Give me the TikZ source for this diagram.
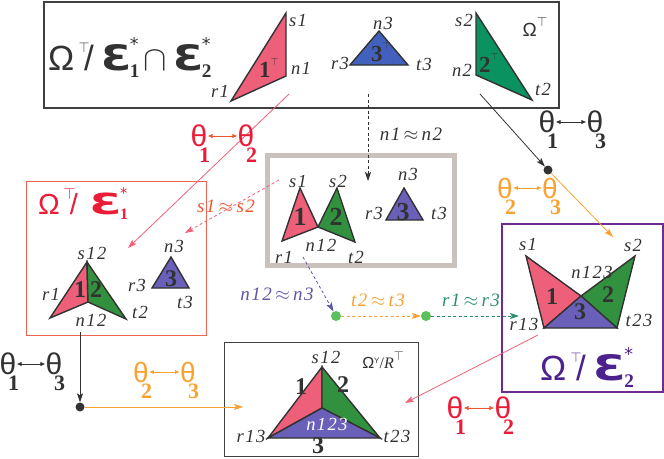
\RequirePackage{fix-cm}
\documentclass[tikz,border=0pt]{standalone}
\usepackage{fontspec}
\setmainfont{Liberation Serif}
\newfontfamily\sansf{Liberation Sans}
\newfontfamily\dejav{DejaVu Sans}
\newfontfamily\labfont{Liberation Serif}[LetterSpace=8]
\usetikzlibrary{arrows.meta}
\definecolor{pinkF}{RGB}{238,96,122}
\definecolor{greenT}{RGB}{10,146,96}
\definecolor{greenF}{RGB}{50,145,62}
\definecolor{blueT}{RGB}{66,96,190}
\definecolor{blueF}{RGB}{106,96,186}
\definecolor{redC}{RGB}{234,28,56}
\definecolor{arrR}{RGB}{240,84,44}
\definecolor{orgC}{RGB}{248,162,50}
\definecolor{boxR}{RGB}{238,100,80}
\definecolor{purB}{RGB}{112,42,150}
\definecolor{purT}{RGB}{76,34,140}
\definecolor{purL}{RGB}{96,84,168}
\definecolor{grnL}{RGB}{42,142,112}
\definecolor{grayB}{RGB}{202,192,188}
\definecolor{dotG}{RGB}{92,192,92}
\definecolor{pinkA}{RGB}{242,96,122}
\definecolor{labC}{RGB}{50,50,50}
\newcommand\tp[1][0.45]{\raisebox{0.5em}{\scalebox{#1}{$\top$}}}
\newcommand\Tsl[1][0.4]{\kern0.12em\tp[#1]\kern-0.15em/\kern0.22em}
\newcommand\Eps[2][1.25]{\scalebox{#1}[1]{\dejav\bfseries Ɛ}\kern-0.06em\rlap{\raisebox{0.55em}{\scalebox{0.5}{\dejav *}}}\raisebox{-0.2em}{\scalebox{0.55}{\rmfamily\bfseries #2}}}
\begin{document}
\begin{tikzpicture}[x=1pt,y=-1pt,
 box/.style={draw, inner sep=0pt, fill=none},
 tri/.style={draw=labC, line width=1.4pt, line join=miter},
 lab/.style={font={\labfont\fontsize{18.5}{18.5}\selectfont\itshape}, text=labC, inner sep=0pt},
 eqlab/.style={font={\labfont\fontsize{19}{19}\selectfont\itshape}, inner sep=0pt},
 num/.style={font=\fontsize{26}{26}\selectfont\bfseries, text=labC, inner sep=0pt},
 th/.style={font=\sansf\fontsize{30}{30}\selectfont, inner sep=0pt},
 thsub/.style={font=\fontsize{22}{22}\selectfont\bfseries, inner sep=0pt, anchor=north west},
 dbl/.style={{Latex[length=5pt,width=4.5pt]}-{Latex[length=5pt,width=4.5pt]}, line width=1pt},
 arr/.style={-{Stealth[length=9pt,width=6pt,inset=2pt]}, line width=0.8pt},
 dsh/.style={dash pattern=on 3pt off 2.5pt},
 blackdot/.style={circle, inner sep=0pt, minimum size=9pt, fill=labC},
 gdot/.style={circle, inner sep=0pt, minimum size=10pt, fill=dotG},
 ttl/.style={font=\sansf, inner sep=0pt, anchor=base west}]
\useasboundingbox (0,0) rectangle (664,458);

% ---------- boxes ----------
\node[box, draw=black!75, line width=1.1pt, minimum width=515pt, minimum height=106pt] (topbox) at (301.5,55) {};
\node[box, draw=grayB, line width=5pt, minimum width=187pt, minimum height=110pt] (midbox) at (361,210.5) {};
\node[box, draw=boxR, line width=1pt, minimum width=180pt, minimum height=154pt] (leftbox) at (116,258) {};
\node[box, draw=purB, line width=1.2pt, minimum width=161pt, minimum height=168pt] (rightbox) at (582.5,308) {};
\node[box, draw=black!75, line width=1pt, minimum width=194pt, minimum height=114pt] (botbox) at (321,399.5) {};

% ---------- top box ----------
\node[ttl, text=labC, font=\sansf\fontsize{35}{35}\selectfont] (ttop) at (48,70) {Ω\Tsl\Eps{1}\kern0.1em$\cap$\kern0.2em\Eps{2}};
\coordinate (T1r) at (231,101); \coordinate (T1s) at (286,13); \coordinate (T1n) at (286,76);
\filldraw[tri, fill=pinkF] (T1r) -- (T1s) -- (T1n) -- cycle;
\coordinate (T3n) at (379,31); \coordinate (T3r) at (350,65); \coordinate (T3t) at (408,65);
\filldraw[tri, fill=blueT] (T3n) -- (T3r) -- (T3t) -- cycle;
\coordinate (T2s) at (476,13); \coordinate (T2n) at (476,75); \coordinate (T2t) at (532,100);
\filldraw[tri, fill=greenT] (T2s) -- (T2n) -- (T2t) -- cycle;
\node[num, font=\fontsize{23}{23}\selectfont\bfseries] (tn1) at (269,68) {1\tp};
\node[num, font=\fontsize{23}{23}\selectfont\bfseries] (tn3) at (381,52) {3\tp};
\node[num, font=\fontsize{23}{23}\selectfont\bfseries] (tn2) at (489,63) {2\tp};
\node[lab] (ls1) at (298,20) {s1};
\node[lab] (ln1) at (301,68) {n1};
\node[lab] (lr1) at (220,91) {r1};
\node[lab] (ln3) at (383,23) {n3};
\node[lab] (lr3) at (340,63) {r3};
\node[lab] (lt3) at (424,64) {t3};
\node[lab] (ls2) at (464,20) {s2};
\node[lab] (ln2) at (462,70) {n2};
\node[lab] (lt2) at (543,89) {t2};
\node[inner sep=0pt, text=labC, font=\sansf\fontsize{19}{19}\selectfont] (otop) at (535,27) {Ω\tp[0.7]};

% ---------- middle box ----------
\coordinate (M1s) at (300,188); \coordinate (M1r) at (282,241); \coordinate (M12) at (318,227);
\coordinate (M2s) at (337,188); \coordinate (M2t) at (355,242);
\filldraw[tri, fill=pinkF] (M1r) -- (M1s) -- (M12) -- cycle;
\filldraw[tri, fill=greenF] (M12) -- (M2s) -- (M2t) -- cycle;
\coordinate (M3n) at (404,188); \coordinate (M3r) at (386,220); \coordinate (M3t) at (423,220);
\filldraw[tri, fill=blueF] (M3n) -- (M3r) -- (M3t) -- cycle;
\node[num] (mn1) at (300,217) {1};
\node[num] (mn2) at (336,217) {2};
\node[num] (mn3) at (403,212) {3};
\node[lab] (mls1) at (298,181) {s1};
\node[lab] (mls2) at (338,181) {s2};
\node[lab] (mln12) at (321,245) {n12};
\node[lab] (mlr1) at (284,257) {r1};
\node[lab] (mlt2) at (356,257) {t2};
\node[lab] (mln3) at (408,174) {n3};
\node[lab] (mlr3) at (374,213) {r3};
\node[lab] (mlt3) at (439,213) {t3};

% ---------- left box ----------
\node[ttl, text=redC, font=\sansf\fontsize{29}{29}\selectfont] (tleft) at (38,214) {Ω\kern0.12em\tp[0.55]\kern-0.2em/\kern0.4em\Eps[1.6]{1}};
\coordinate (L12s) at (87,262); \coordinate (L1r) at (50,318); \coordinate (L12n) at (88,302); \coordinate (L2t) at (126,319);
\filldraw[tri, fill=pinkF] (L1r) -- (L12s) -- (L12n) -- cycle;
\filldraw[tri, fill=greenF] (L12n) -- (L12s) -- (L2t) -- cycle;
\coordinate (L3n) at (171,257); \coordinate (L3r) at (152,288); \coordinate (L3t) at (189,288);
\filldraw[tri, fill=blueF] (L3n) -- (L3r) -- (L3t) -- cycle;
\node[num, font=\fontsize{24}{24}\selectfont\bfseries] (ln1n) at (80,290) {1};
\node[num, font=\fontsize{24}{24}\selectfont\bfseries] (ln2n) at (96,290) {2};
\node[num, font=\fontsize{24}{24}\selectfont\bfseries] (ln3n) at (171,279) {3};
\node[lab] (lls12) at (92,253) {s12};
\node[lab] (llr1) at (51,294) {r1};
\node[lab] (lln12) at (91,320) {n12};
\node[lab] (llt2) at (140,312) {t2};
\node[lab] (lln3) at (174,246) {n3};
\node[lab] (llr3) at (137,285) {r3};
\node[lab] (llt3) at (185,302) {t3};

% ---------- right box ----------
\node[ttl, text=purT, font=\sansf\fontsize{35}{35}\selectfont] (tright) at (540,380) {Ω\Tsl\Eps[1.35]{2}};
\coordinate (R1s) at (526,256); \coordinate (R13) at (544,328); \coordinate (Rc) at (581,296);
\coordinate (R2s) at (635,256); \coordinate (R23) at (617,328);
\filldraw[tri, fill=pinkF] (R1s) -- (R13) -- (Rc) -- cycle;
\filldraw[tri, fill=greenF] (R2s) -- (Rc) -- (R23) -- cycle;
\filldraw[tri, fill=blueF] (R13) -- (Rc) -- (R23) -- cycle;
\node[num, font=\fontsize{24}{24}\selectfont\bfseries] (rn1) at (552,297) {1};
\node[num, font=\fontsize{24}{24}\selectfont\bfseries] (rn2) at (608,295) {2};
\node[num, font=\fontsize{24}{24}\selectfont\bfseries] (rn3) at (580,312) {3};
\node[lab] (rls1) at (528,244) {s1};
\node[lab] (rls2) at (633,245) {s2};
\node[lab] (rln123) at (592,272) {n123};
\node[lab] (rlr13) at (524,324) {r13};
\node[lab] (rlt23) at (639,320) {t23};

% ---------- bottom box ----------
\coordinate (B12) at (322,367); \coordinate (B13) at (268,438); \coordinate (B23) at (380,438); \coordinate (Bc) at (322,408);
\filldraw[tri, fill=pinkF] (B12) -- (B13) -- (Bc) -- cycle;
\filldraw[tri, fill=greenF] (B12) -- (Bc) -- (B23) -- cycle;
\filldraw[tri, fill=blueF] (B13) -- (Bc) -- (B23) -- cycle;
\node[num, font=\fontsize{24}{24}\selectfont\bfseries] (bn1) at (301,387) {1};
\node[num, font=\fontsize{24}{24}\selectfont\bfseries] (bn2) at (343,385) {2};
\node[num, font=\fontsize{24}{24}\selectfont\bfseries] (bn3) at (318,446) {3};
\node[lab] (bls12) at (326,357) {s12};
\node[lab] (blr13) at (251,436) {r13};
\node[lab] (blt23) at (397,436) {t23};
\node[lab, text=white] (bln123) at (327,424) {n123};
\node[inner sep=0pt, text=labC] (obot) at (383,360) {{\sansf\fontsize{16}{16}\selectfont Ω}\raisebox{0.5em}{\sansf\fontsize{8}{8}\selectfont Y}{\fontsize{16}{16}\selectfont /\textit{R}\tp[0.8]}};

% ---------- connectors ----------
\coordinate (p1s) at (289,94); \coordinate (p1e) at (128,248);
\draw[arr, pinkA] (p1s) -- (p1e);
\coordinate (kds) at (368,94); \coordinate (kde) at (368,181);
\draw[arr, dsh, labC] (kds) -- (kde);
\node[eqlab, text=labC] (lnn) at (411,134) {n1\,$\approx$\,n2};
\node[blackdot] (dotR) at (548,170) {};
\coordinate (kbs) at (480,94);
\draw[arr, labC] (kbs) -- (dotR);
\coordinate (oRe) at (613,237);
\draw[arr, orgC] (dotR) -- (oRe);
\coordinate (pds) at (279,180); \coordinate (pde) at (185,233);
\draw[arr, dsh, pinkA] (pds) -- (pde);
\node[eqlab, text=arrR] (lss) at (226,206) {s1\,$\approx$\,s2};
\node[gdot] (dotA) at (336,316) {};
\node[gdot] (dotB) at (426,316) {};
\coordinate (uds) at (303,257);
\draw[arr, dsh, purL] (uds) -- (dotA);
\node[eqlab, text=purL] (lnn3) at (277,294) {n12\,$\approx$\,n3};
\draw[arr, dsh, orgC] (dotA) -- (dotB);
\node[eqlab, text=orgC] (ltt) at (378,300) {t2\,$\approx$\,t3};
\coordinate (gde) at (519,316);
\draw[arr, dsh, grnL] (dotB) -- (gde);
\node[eqlab, text=grnL] (lrr) at (471,300) {r1\,$\approx$\,r3};
\node[blackdot] (dotL) at (80,407) {};
\coordinate (kls) at (80,332);
\draw[arr, labC] (kls) -- (dotL);
\coordinate (oLe) at (243,407);
\draw[arr, orgC] (dotL) -- (oLe);
\coordinate (p2s) at (538,335); \coordinate (p2e) at (405,403);
\draw[arr, pinkA] (p2s) -- (p2e);

% ---------- theta labels ----------
\node[th, text=redC] (a1) at (199,136) {θ};
\node[thsub, text=redC] (a1s) at ([yshift=-1pt]a1.south) {1};
\node[th, text=redC] (a2) at (246,136) {θ};
\node[thsub, text=redC] (a2s) at ([yshift=-1pt]a2.south) {2};
\draw[dbl, arrR] (a1.east) -- (a2.west);

\node[th, text=labC] (b1) at (547,122) {θ};
\node[thsub, text=labC] (b1s) at ([yshift=-1pt]b1.south) {1};
\node[th, text=labC] (b3) at (595,122) {θ};
\node[thsub, text=labC] (b3s) at ([yshift=-1pt]b3.south) {3};
\draw[dbl, labC] (b1.east) -- (b3.west);

\node[th, text=orgC, font=\sansf\fontsize{28}{28}\selectfont] (c2) at (505,188) {θ};
\node[thsub, text=orgC] (c2s) at ([yshift=-1pt]c2.south) {2};
\node[th, text=orgC, font=\sansf\fontsize{28}{28}\selectfont] (c3) at (550,188) {θ};
\node[thsub, text=orgC] (c3s) at ([yshift=-1pt]c3.south) {3};
\draw[dbl, orgC] (c2.east) -- (c3.west);

\node[th, text=labC] (d1) at (8,364) {θ};
\node[thsub, text=labC] (d1s) at ([yshift=-1pt]d1.south) {1};
\node[th, text=labC] (d3) at (54,364) {θ};
\node[thsub, text=labC] (d3s) at ([yshift=-1pt]d3.south) {3};
\draw[dbl, labC] (d1.east) -- (d3.west);

\node[th, text=orgC, font=\sansf\fontsize{28}{28}\selectfont] (e2) at (141,372) {θ};
\node[thsub, text=orgC] (e2s) at ([yshift=-1pt]e2.south) {2};
\node[th, text=orgC, font=\sansf\fontsize{28}{28}\selectfont] (e3) at (188,372) {θ};
\node[thsub, text=orgC] (e3s) at ([yshift=-1pt]e3.south) {3};
\draw[dbl, orgC] (e2.east) -- (e3.west);

\node[th, text=redC] (f1) at (455,408) {θ};
\node[thsub, text=redC] (f1s) at ([yshift=-1pt]f1.south) {1};
\node[th, text=redC] (f2) at (503,408) {θ};
\node[thsub, text=redC] (f2s) at ([yshift=-1pt]f2.south) {2};
\draw[dbl, arrR] (f1.east) -- (f2.west);
\end{tikzpicture}
\end{document}
